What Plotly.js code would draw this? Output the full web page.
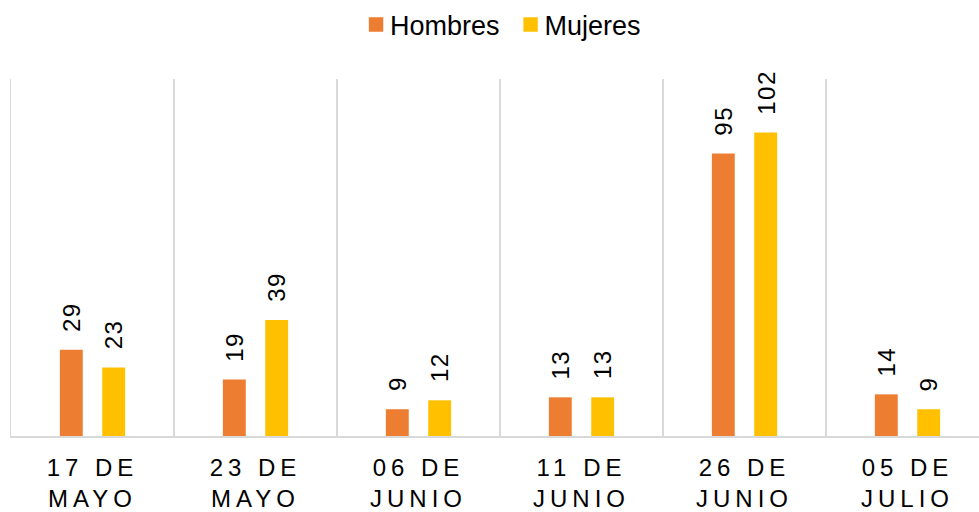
<!DOCTYPE html>
<html>
<head>
<meta charset="utf-8">
<script src="https://cdn.plot.ly/plotly-3.0.1.min.js"></script>
<style>
html, body { margin: 0; padding: 0; overflow: hidden; background: #fff; }
#chart { width: 991px; height: 512px; }
.xtick text { letter-spacing: 5px; }
.annotation-text { letter-spacing: 1.5px; }
.legend .legendpoints path { transform: translate(26px, 0) scale(1.2); }
</style>
</head>
<body>
<div id="chart"></div>
<script>
const categories = ["17 DE<br>MAYO", "23 DE<br>MAYO", "06 DE<br>JUNIO", "11 DE<br>JUNIO", "26 DE<br>JUNIO", "05 DE<br>JULIO"];
const hombres = [29, 19, 9, 13, 95, 14];
const mujeres = [23, 39, 12, 13, 102, 9];
const seriesNames = ["Hombres", "Mujeres"];
const seriesColors = ["#ED7D31", "#FFC000"];

const FONT = "Liberation Sans, Arial, sans-serif";

const traces = [hombres, mujeres].map((vals, k) => ({
  type: "bar",
  name: seriesNames[k],
  x: categories,
  y: vals,
  marker: { color: seriesColors[k] },
  hoverinfo: "skip"
}));

const annotations = [];
[hombres, mujeres].forEach((vals, k) => {
  vals.forEach((v, i) => {
    annotations.push({
      x: categories[i], y: v, xref: "x", yref: "y",
      text: String(v), showarrow: false,
      textangle: -90, xanchor: "center", yanchor: "bottom",
      xshift: k === 0 ? -21.25 : 21.25, yshift: 16,
      font: { family: FONT, size: 24, color: "#000" }
    });
  });
});

const layout = {
  width: 991, height: 512,
  margin: { l: 11, r: 2, t: 78, b: 76 },
  paper_bgcolor: "#fff", plot_bgcolor: "#fff",
  barmode: "group", bargap: 0.48, bargroupgap: 0.46,
  showlegend: true,
  legend: {
    orientation: "h", x: 0.498, xanchor: "center", y: 1.148, yanchor: "middle",
    font: { family: FONT, size: 27, color: "#000" },
    itemclick: false, itemdoubleclick: false
  },
  xaxis: {
    type: "category",
    tickson: "boundaries",
    showgrid: true, gridcolor: "#D9D9D9", gridwidth: 1.3,
    showline: true, linecolor: "#D9D9D9", linewidth: 2,
    ticks: "", ticklabelstandoff: 9,
    tickfont: { family: FONT, size: 24, color: "#000" },
    fixedrange: true
  },
  yaxis: {
    range: [0, 120], showgrid: false, zeroline: false, showticklabels: false,
    showline: true, linecolor: "#D9D9D9", linewidth: 1.3, fixedrange: true
  },
  annotations: annotations,
  font: { family: FONT }
};

Plotly.newPlot("chart", traces, layout, { displayModeBar: false, staticPlot: true });
</script>
</body>
</html>
